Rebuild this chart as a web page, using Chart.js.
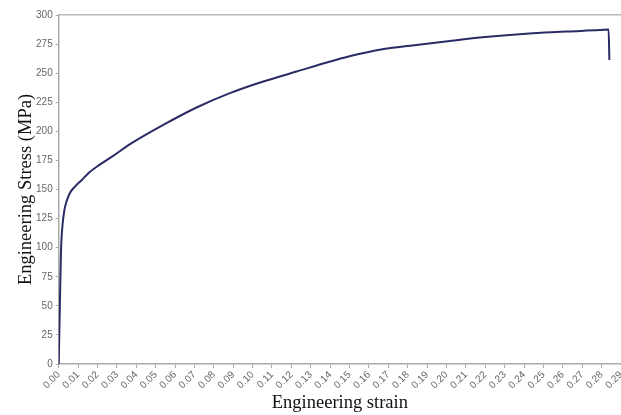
<!DOCTYPE html>
<html>
<head>
<meta charset="utf-8">
<script src="https://cdn.jsdelivr.net/npm/chart.js@4/dist/chart.umd.min.js"></script>
<style>
  html, body { margin: 0; padding: 0; background: #fff; overflow: hidden; }
  #wrap { width: 621px; height: 415px; }
</style>
</head>
<body>
<div id="wrap"><canvas id="grafico"></canvas></div>
<script>
// valores
const deformacao = [0, 0.0006, 0.0012, 0.0019, 0.0029, 0.0041, 0.0058, 0.0084, 0.0118, 0.0153, 0.0204,
  0.0273, 0.0368, 0.0539, 0.0711, 0.0883, 0.1055, 0.1227, 0.140, 0.150, 0.167, 0.1845, 0.2017,
  0.22, 0.2445, 0.262, 0.279, 0.2836, 0.2840];
const tensao = [0, 50, 98, 118, 132, 140, 147, 152.5, 158, 164, 170.5,
  178, 189, 205.5, 220.5, 232.8, 242.8, 251.4, 260, 264.5, 270.5, 274.3, 277.7,
  281, 284.3, 285.8, 287, 287.5, 261.4];
const ticksY = [0, 25, 50, 75, 100, 125, 150, 175, 200, 225, 250, 275, 300];
const ticksX = [0, 0.01, 0.02, 0.03, 0.04, 0.05, 0.06, 0.07, 0.08, 0.09, 0.10, 0.11, 0.12, 0.13, 0.14,
  0.15, 0.16, 0.17, 0.18, 0.19, 0.20, 0.21, 0.22, 0.23, 0.24, 0.25, 0.26, 0.27, 0.28, 0.29];

const pontos = deformacao.map((x, i) => ({ x: x, y: tensao[i] }));
const fonteTick = { family: 'Liberation Sans', size: 10 };
const fonteTitulo = { family: 'Liberation Serif', size: 18.5 };

new Chart(document.getElementById('grafico'), {
  type: 'line',
  data: {
    datasets: [{
      data: pontos,
      borderColor: '#2b2b66',
      borderWidth: 2,
      pointRadius: 0,
      cubicInterpolationMode: 'monotone',
      fill: false
    }]
  },
  options: {
    responsive: true,
    maintainAspectRatio: false,
    animation: false,
    layout: { padding: { top: 15, right: 0, left: 0, bottom: 0 } },
    plugins: { legend: { display: false }, tooltip: { enabled: false } },
    scales: {
      x: {
        type: 'linear',
        min: 0,
        max: 0.29,
        afterBuildTicks: (s) => { s.ticks = ticksX.map(v => ({ value: v })); },
        afterFit: (s) => { s.height = 51; s.paddingRight = 0; s.paddingLeft = 0; },
        ticks: {
          font: fonteTick,
          color: '#666',
          maxRotation: 45,
          minRotation: 45,
          autoSkip: false,
          padding: 1,
          callback: (v) => v.toFixed(2)
        },
        grid: { drawOnChartArea: false, tickLength: 4, color: '#aaa' },
        border: { color: '#aaa', width: 1.5 },
        title: { display: true, text: 'Engineering strain', font: fonteTitulo, color: '#111', padding: { top: 0, bottom: 1 } }
      },
      xTopo: {
        type: 'linear',
        position: 'top',
        min: 0,
        max: 0.29,
        afterFit: (s) => { s.height = 0; s.paddingRight = 0; s.paddingLeft = 0; },
        ticks: { display: false },
        grid: { display: false },
        border: { color: '#bbb', width: 1.5 }
      },
      y: {
        min: 0,
        max: 300,
        afterBuildTicks: (s) => { s.ticks = ticksY.map(v => ({ value: v })); },
        afterFit: (s) => { s.width = 58.7; s.paddingTop = 0; s.paddingBottom = 0; },
        ticks: { font: fonteTick, color: '#666', padding: 3 },
        grid: { drawOnChartArea: false, tickLength: 3, color: '#aaa' },
        border: { color: '#aaa', width: 1.5 },
        title: { display: true, text: 'Engineering Stress (MPa)', font: fonteTitulo, color: '#111', padding: { top: 15, bottom: 0 } }
      }
    }
  }
});
</script>
</body>
</html>
